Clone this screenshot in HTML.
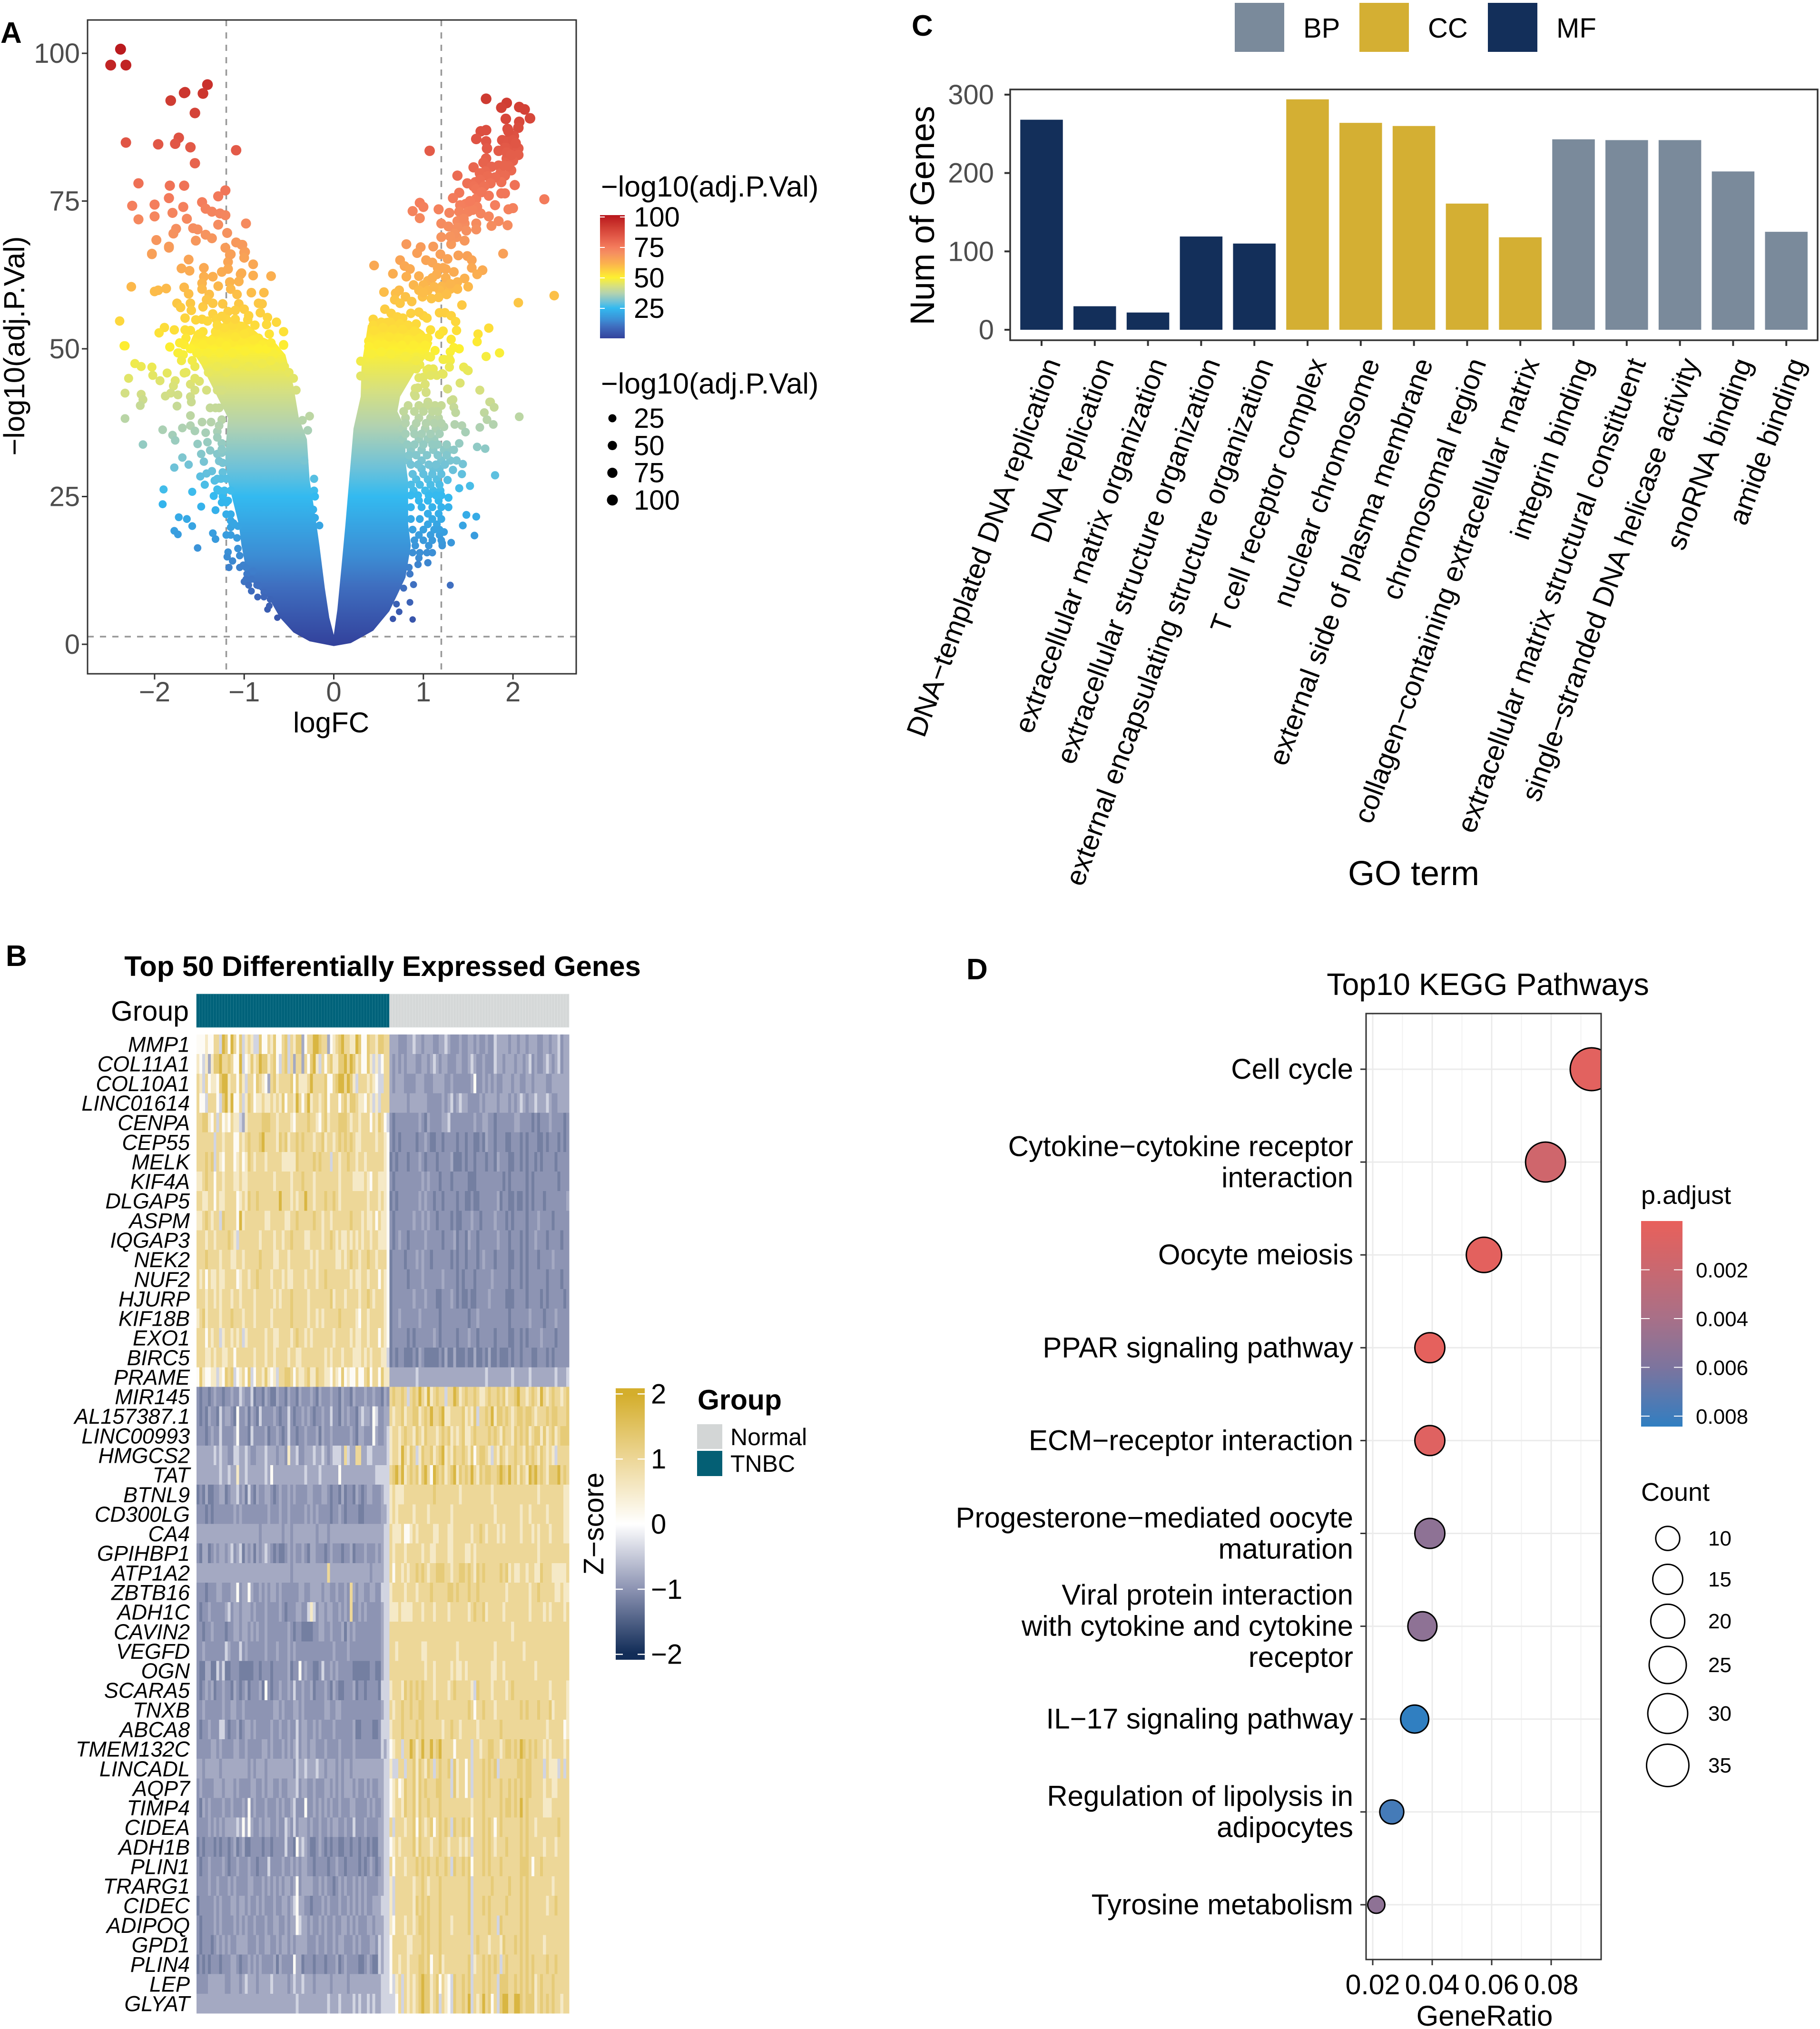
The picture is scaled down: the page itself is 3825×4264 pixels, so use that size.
<!DOCTYPE html>
<html lang="en">
<head>
<meta charset="utf-8">
<title>Multi-panel differential expression figure</title>
<style>
html,body{margin:0;padding:0;background:#fff;}
svg{display:block;font-family:"Liberation Sans",sans-serif;}
text{font-family:"Liberation Sans",sans-serif;}
</style>
</head>
<body>
<svg id="figure" xmlns="http://www.w3.org/2000/svg" width="3825" height="4264" viewBox="0 0 3825 4264">
<rect x="0" y="0" width="3825" height="4264" fill="#ffffff"/>
<defs id="defs">
<clipPath id="dot-clip"><rect x="2871" y="2130" width="494" height="1988"/></clipPath>
</defs>

<text x="1" y="90" font-size="62" font-weight="700">A</text>
<text x="12" y="2030" font-size="62" font-weight="700">B</text>
<text x="1916" y="75" font-size="62" font-weight="700">C</text>
<text x="2031" y="2058" font-size="62" font-weight="700">D</text>

<g id="panel-a">
<text transform="translate(51,727) rotate(-90)" text-anchor="middle" font-size="61.5">−log10(adj.P.Val)</text>
<text x="696" y="1539" text-anchor="middle" font-size="60">logFC</text>
<text x="1263" y="413" font-size="61">−log10(adj.P.Val)</text>
<text x="1263" y="827" font-size="61">−log10(adj.P.Val)</text>
</g>

<g id="panel-c">
<text transform="translate(1963,453) rotate(-90)" text-anchor="middle" font-size="71.5">Num of Genes</text>
<text x="2971" y="1860" text-anchor="middle" font-size="72">GO term</text>
</g>

<g id="panel-b">
<text x="804" y="2051" text-anchor="middle" font-size="59.8" font-weight="700">Top 50 Differentially Expressed Genes</text>
<text x="397" y="2145" text-anchor="end" font-size="59">Group</text>
<text transform="translate(1268,3202) rotate(-90)" text-anchor="middle" font-size="59">Z−score</text>
<text x="1466" y="2962" font-size="59" font-weight="700">Group</text>
<rect x="1465" y="2993" width="53" height="52" fill="#d3d6d6"/>
<rect x="1465" y="3049" width="53" height="53" fill="#045f74"/>
<text x="1535" y="3037" font-size="50">Normal</text>
<text x="1535" y="3093" font-size="50">TNBC</text>
</g>

<g id="panel-d">
<text x="3127" y="2091" text-anchor="middle" font-size="64.5">Top10 KEGG Pathways</text>
<text x="3120" y="4257" text-anchor="middle" font-size="60">GeneRatio</text>
<text x="3449" y="2530" font-size="54">p.adjust</text>
<text x="3449" y="3154" font-size="54">Count</text>
</g>
</svg>

<script>
// ---------- Panel A: volcano data (logFC, -log10 adj.P.Val) ----------
const volcanoLeft=[[-2.38,100.7],[-2.49,98],[-2.32,98],[-1.41,94.7],[-1.46,93.2],[-1.67,93.3],[-1.66,93.4],[-1.82,92],[-1.55,89.9],[-2.32,84.9],[-1.96,84.6],[-1.73,85.7],[-1.77,84.7],[-1.6,84.1],[-1.09,83.6],[-1.55,81.4],[-2.18,78],[-1.83,77.6],[-1.67,77.6],[-1.21,76.8],[-1.29,75.8],[-1.84,75.5],[-1.47,74.8],[-2,74.4],[-2.25,74.2],[-1.68,74],[-1.43,73.7],[-1.36,73.2],[-1.27,72.9],[-1.21,72.6],[-1.8,73],[-2.18,71.9],[-2,72.4],[-1.64,72],[-.98,71.2],[-1.29,71],[-1.57,70.4],[-1.52,70.2],[-1.76,70.3],[-1.79,69.5],[-1.19,69.6],[-1.43,69.3],[-1.36,68.7],[-1.98,68.4],[-1.54,68.3],[-1.84,67.1],[-2.03,66.1],[-1.09,68],[-1.03,67.6],[-1.21,67.1],[-1.16,65.9],[-1,66.3],[-1.62,65.1],[-1.18,64.7],[-.9,64.3],[-1.7,63.6],[-1.61,63.2],[-1.45,63.7],[-1.25,63],[-1.04,62.6],[-.9,62.4],[-.7,62.3],[-1.98,68.4],[-1.84,67.3],[-2.03,66],[-1.15,66],[-1.02,67.6],[-.99,66.4],[-1,65.4],[-1.18,63.5],[-1.03,62.8],[-1.06,61.4],[-1.16,61.3],[-1.35,62.2],[-1.45,62.2],[-1.47,61.1],[-1.67,60.4],[-1.62,59.3],[-1.47,60.1],[-1.39,59.2],[-1.29,60.6],[-1.15,60.1],[-1.08,59.2],[-.92,59.5],[-.78,59.5],[-2.26,60.5],[-2,59.7],[-1.96,59.9],[-1.87,60.2],[-1.75,57.7],[-1.71,57],[-1.6,57.7],[-1.59,56.5],[-1.46,57.1],[-1.42,58.3],[-1.35,57.7],[-1.24,57.6],[-1.18,56.3],[-1.06,57.6],[-1,56.7],[-.84,57.7],[-.8,57.6],[-.82,56.1],[-.74,55.3],[-.75,54.1],[-.64,54.5],[-.56,52.9],[-.56,50.7],[-2.39,54.7],[-2.33,50.5],[-1.89,53.6],[-1.95,52.7],[-1.78,53.2],[-1.83,50.3],[-1.73,49.3],[-1.66,55.2],[-1.54,54.9],[-1.47,55],[-1.41,54.7],[-1.35,55.9],[-1.31,55],[-.96,54.9],[-.95,55.6],[-1.66,53.2],[-1.6,53.1],[-1.65,51.8],[-1.67,50.7],[-1.46,52.9],[-1.46,50.7],[-1.37,51.4],[-1.32,52.9],[-1.22,53.6],[-1.13,54],[-1.03,53.8],[-.94,52.9],[-.84,51.8],[-.72,52.5],[-.8,50.7],[-1.13,51.1],[-1.03,51.4],[-1.27,51.1],[-1.41,49.3],[-1.27,49.3],[-1.13,49.3],[-.99,49.6],[-.84,50],[-.67,49.1],[-1.53,49.3],[-2.34,50.5],[-1.83,50.3],[-1.74,49.3],[-.56,50.6],[-2.22,47.5],[-2.15,47],[-2.03,46.9],[-2.02,45.5],[-1.86,45.9],[-2.29,45],[-1.94,44.6],[-1.67,45.9],[-1.77,44.6],[-1.79,43.7],[-2.33,42.5],[-2.15,42.3],[-2.13,41.4],[-2.16,40.4],[-1.88,42],[-1.82,42.5],[-1.74,42.2],[-1.75,40.3],[-1.6,41.9],[-1.59,41],[-1.6,44],[-1.5,44.5],[-1.4,46],[-1.55,47],[-1.45,48],[-2.33,38.2],[-1.6,38.7],[-1.47,37.6],[-1.37,37.6],[-1.91,36.3],[-1.69,36.6],[-1.6,37],[-1.55,36.1],[-1.43,35.8],[-1.8,35.4],[-1.77,34.5],[-2.13,33.8],[-1.52,33.9],[-1.41,34.2],[-1.38,32.8],[-1.48,32.2],[-1.3,32.2],[-1.25,32.4],[-1.69,31.6],[-1.45,30.9],[-1.62,30.4],[-1.78,29.9],[-1.24,30.7],[-1.36,29.3],[-1.42,28.9],[-1.49,28.4],[-1.44,27],[-1.24,29.1],[-1.33,27.7],[-1.3,26.2],[-1.9,26.2],[-1.58,25.8],[-1.34,25.1],[-1.24,25],[-1.18,24.3],[-1.91,23.7],[-1.48,23.3],[-1.32,22.7],[-1.73,21.5],[-1.64,21.2],[-1.58,20],[-1.15,20.9],[-1.07,20],[-1.15,19.8],[-1.15,18.5],[-1.2,18.5],[-1.35,18.8],[-1.32,17.8],[-1.78,19.2],[-1.74,18.6],[-1.52,16.3],[-1.18,15.6],[-1.19,14.8],[-1.13,14.1],[-1.17,13],[-1.01,13.4],[-1.07,16.2],[-.97,11.9],[-1,10.6],[-.9,12.4],[-.92,9],[-.78,8.8],[-.84,9.9],[-.71,7.6],[-.74,5.9],[-.63,4.5],[-.27,38.6],[-.35,37.9],[-.29,36.2],[-.33,31.1],[-.22,28],[-.22,26],[-.21,25],[-.23,22.8],[-.21,21.4],[-.16,20.1],[-1.3,47],[-1.2,46],[-1.1,47.5],[-.95,47],[-.8,47.5],[-.65,47],[-.55,47],[-.5,46],[-.45,45],[-.42,43],[-1.25,43],[-1.32,40],[-1.25,38],[-1.3,36],[-1.25,34],[-1.2,28],[-1.15,26],
[-1.3,43],[-1.42,43],[-1.55,43],[-1.28,40],[-1.38,40],[-1.28,37],[-1.3,35],[-1.25,33],[-1.28,31],[-1.26,28],[-1.3,28],[-1.22,26],[-1.28,26],[-1.2,24],[-1.25,24],[-1.15,22],[-1.2,22],[-1.12,20.5],[-1.08,18],[-1.05,15],[-.98,13],[-1.05,13],[-.92,11],[-.98,11],[-.86,10],[-.95,10],[-.78,8],[-.85,8],[-.72,6.5],[-1.55,45],[-1.65,46],[-1.58,48],[-1.68,49],[-1.7,48],[-1.6,50],[-1.72,51],[-1.5,52.5],[-1.3,54],[-1.2,55],[-1.1,55],[-1,52.5],[-.9,51.5],[-1.2,50.5],[-1.1,52],[-.75,50],[-.7,51],[-1.25,55.5],[-1.1,56.5],[-.88,54],[-.7,48]];
const volcanoRight=[[1.7,92.3],[1.93,91.6],[1.87,90.8],[2.07,90.9],[2.13,90.5],[2.19,89],[1.92,88.9],[2.07,88.4],[2.06,87.4],[1.94,87.2],[1.7,87],[1.64,86.8],[1.59,85.5],[1.7,85.1],[2.01,86],[1.97,86.2],[1.88,85.3],[1.95,85],[2,84.4],[1.71,83.9],[1.84,83.5],[1.91,84],[2.06,83.9],[2.06,82.8],[1.93,82.2],[2,81.8],[1.07,83.5],[1.7,82.2],[1.67,81.5],[1.56,80.7],[1.84,81],[1.76,80.8],[1.98,80.2],[1.38,79.3],[1.69,80],[1.63,79.7],[1.86,79.7],[1.91,79.3],[1.72,79.2],[1.49,78],[1.58,78.2],[1.63,78.6],[1.87,78.2],[2.02,77.7],[1.56,77.5],[1.59,77],[1.91,76.3],[1.87,76.3],[1.59,75.4],[1.73,75.9],[2.35,75.3],[1.4,76.4],[1.33,75.5],[1.8,74.3],[1.47,74.5],[1.41,74.3],[1.95,73.6],[2,73.8],[.96,74.7],[1,74],[.88,73.3],[.96,72.1],[1.17,73.6],[1.29,73],[1.5,73.2],[1.4,73.2],[1.64,72.9],[1.73,72.4],[1.84,71.6],[1.2,71.2],[1.28,70.7],[1.38,71.6],[1.46,71.2],[1.59,71.2],[1.59,70.2],[1.48,70],[1.38,70.5],[1.76,70.8],[1.94,70.9],[1.2,68.9],[1.37,68.9],[1.46,68.3],[1.31,67.7],[1.11,67.3],[.97,67.2],[.93,66.2],[.81,67.7],[1.89,66.1],[1.19,66],[1.27,65.2],[1.39,65.8],[1.49,65.7],[1.54,65],[1.03,65],[1.1,64.6],[.74,65],[.79,64],[.45,64.1],[1.16,63.7],[1.22,63.7],[.85,63.5],[1.54,63.7],[1.66,63.3],[1.34,63],[.66,62.7],[.81,62.2],[1.15,62.6],[1.6,62.6],[.95,62.3],[1.05,61.5],[1.46,61.9],[1.38,61.3],[.89,60.8],[1,60.8],[1.21,60.6],[1.5,60.5],[.73,59.9],[.56,59.6],[.95,59.9],[1.05,59.9],[1.18,59.9],[1.3,60.1],[1.38,60.1],[.69,59.4],[.8,58.8],[.68,58.3],[.74,57.7],[.87,58],[.99,58.8],[1.09,58.5],[1.17,58.7],[1.26,59.2],[2.46,59],[2.06,57.8],[1.43,57.4],[.57,56.7],[1.18,56.1],[1.24,56.1],[.64,56],[1,55.6],[1.04,55.2],[1.31,55.6],[.44,55],[.71,55.4],[.77,55.2],[1.36,54.6],[.44,54],[.53,54.5],[.63,54.5],[.74,54.2],[.83,54],[.92,54.2],[.45,53.1],[.55,53.6],[.66,53.3],[.77,53.3],[.9,53],[1.08,53.2],[1.22,53],[1.37,53.1],[1.73,53.5],[1.61,52.5],[1.18,52.4],[.39,51.3],[.73,51.8],[.83,51.5],[.96,51.8],[1.05,51.8],[1.31,51.6],[1.6,51.2],[.39,50.4],[.49,50.7],[.57,50.7],[.76,50.6],[.89,50.6],[1.02,50.6],[1.4,50],[1.34,50.2],[1.13,49.7],[1.3,49.5],[1.85,49.3],[1.7,48.7],[.42,49.1],[.53,49.5],[.64,49.1],[.8,48.6],[.92,48.6],[1.08,48.6],[1.22,48.2],[1.3,48],[.3,47.9],[.96,47.3],[1.29,46.9],[1.45,46.9],[1.49,46.4],[.3,45.4],[1.22,45.7],[1.06,46.6],[1.11,46.6],[.92,46.6],[1,45.2],[1.15,45.5],[1.41,44.2],[1.27,43.2],[1.63,43],[.36,43.9],[.94,43.4],[.9,42.3],[1.03,42.7],[1.74,41],[1.33,41.4],[1.05,41],[.83,40.4],[.95,40.4],[1.04,40.4],[1.13,40.4],[1.2,40.4],[.8,38.3],[.95,38.3],[1.08,38.3],[1.17,38.3],[.77,36.5],[.89,36.5],[1.02,36.5],[1.14,36.5],[.77,34.7],[.95,34.7],[1.05,34.7],[1.12,34.7],[.86,32.9],[.98,32.9],[1.11,32.9],[1.23,32.9],[1.29,32.9],[.83,31.1],[.98,31.1],[1.2,31.1],[1.3,31.1],[.98,29.7],[1.11,29.7],[1.18,29.7],[.92,27.9],[1.05,27.9],[1.15,27.9],[.89,26],[1.02,26],[1.11,26],[.95,24.3],[1.05,24.3],[1.17,24.3],[1.05,22.1],[1.17,22.1],[1.05,20.3],[1.15,20.3],[.95,18.5],[1.08,18.5],[1.18,18.5],[.91,16.7],[1.06,16.7],[1.21,16.7],[1.85,49.3],[1.45,46.9],[1.5,46.3],[1.41,44.2],[1.27,43.2],[1.63,43],[1.31,41.2],[1.34,40.1],[1.36,39.2],[1.75,41],[1.79,40.1],[1.68,39.2],[1.71,38],[1.78,37.2],[1.63,36.7],[2.07,38.5],[1.23,36.8],[1.35,37.2],[1.43,37],[1.47,35.9],[1.4,34],[1.34,32.9],[1.6,33.4],[1.69,33.1],[1.44,30.5],[1.37,31.1],[1.33,29.5],[1.43,28.8],[1.8,28.6],[1.27,27.8],[1.52,26.8],[1.4,26.4],[1.19,26],[1.28,24.8],[1.28,23.2],[1.48,21.9],[1.59,21.6],[1.44,20.1],[1.23,19],[1.57,18.4],[1.31,17.2],[1.21,17.1],[1.05,13.8],[.95,14.6],[.94,13.5],[1.3,10],[.89,10.1],[.85,7.1],[.88,4.2],[.73,5.5],[.66,4.3],[.85,11.9],[.8,48.7],[.92,48],[1.06,48.7],[1.23,48.2],[1.29,48.3],[1.29,46.9],[1.04,46.4],[1.21,45.8],[.95,45.1],[1.08,45.5],[1.02,44],[.91,43.3],[1.03,42.6],[.91,42],
[.78,39.4],[.9,39.4],[1,39.4],[1.1,39.4],[1.16,39.4],[.8,37.4],[.92,37.4],[1.03,37.4],[1.12,37.4],[1.2,37.4],[.8,35.6],[.9,35.6],[.98,35.6],[1.08,35.6],[1.18,35.6],[.82,33.8],[.9,33.8],[1,33.8],[1.1,33.8],[1.16,33.8],[1.26,33.8],[.84,32],[.92,32],[1.04,32],[1.16,32],[1.26,32],[.86,30.4],[.94,30.4],[1.06,30.4],[1.14,30.4],[1.24,30.4],[.88,28.8],[1,28.8],[1.1,28.8],[1.2,28.8],[.86,27],[.96,27],[1.08,27],[1.18,27],[.86,25.2],[.94,25.2],[1.06,25.2],[1.14,25.2],[1.2,25.2],[.86,23.2],[.98,23.2],[1.1,23.2],[1.2,23.2],[.86,21.2],[.96,21.2],[1.1,21.2],[1.2,21.2],[.88,19.4],[1,19.4],[1.12,19.4],[1.18,19.4],[.9,17.6],[1,17.6],[1.1,17.6],[1.2,17.6],[.88,15.5],[.96,15.5],[1.04,15.5],[1.1,15.5],[.84,13],[.78,9.5],[.7,6.8],
[1.95,86.8],[2,85.3],[1.93,83.2],[1.98,82.8],[2.03,84.8],[1.95,80.9],[1.9,81],[1.8,79],[1.75,78],[1.68,77.5],[1.65,76.5],[1.6,74],[1.55,73.5],[1.52,75],[1.45,72],[1.35,69.5],[1.3,69],[1.25,63.5],[1.1,62],[1.25,62],[1.3,61],[1.12,60.5],[1,59.5],[.86,56],[.62,52],[.95,56.2]];
// dense core of each lobe: outline as [logFC, -log10 adj.P.Val]
const leftLobeOutline=[[0,-.3],[-.27,.5],[-.45,2],[-.6,4.5],[-.72,7.7],[-.875,9.9],[-.97,12],[-1.03,16.7],[-1.06,20.3],[-1.12,23.9],[-1.18,27.5],[-1.21,31],[-1.2,34.7],[-1.18,38.3],[-1.3,41.9],[-1.48,47.3],[-1.62,50.5],[-1.55,53],[-1.4,52],[-1.25,54],[-1.1,55],[-.95,54],[-.8,52],[-.65,51],[-.54,49],[-.45,43.7],[-.39,38.3],[-.3,34.7],[-.27,27.9],[-.2,21],[-.16,16.7],[-.1,9.5],[-.05,4.5],[0,1.6]];
const rightLobeOutline=[[0,1.6],[.04,5.9],[.085,13],[.13,20.3],[.16,25.7],[.19,31.1],[.22,36.5],[.3,41.9],[.31,47.3],[.345,50.5],[.38,54],[.5,55],[.7,55.5],[.85,54.5],[1,53],[1.1,51],[1.05,49],[.9,46],[.74,41.9],[.71,39.4],[.8,36.5],[.8,31.1],[.83,27.5],[.83,20.3],[.86,16.7],[.8,11.3],[.71,8.4],[.62,5.6],[.44,2.3],[.19,.2],[0,-.3]];
const volcanoXTicks=[-2,-1,0,1,2];
const volcanoYTicks=[0,25,50,75,100];
const volcanoXCutoffs=[-1.2,1.2];
const volcanoYCutoffs=[1.3];
const volcanoLegendValues=[100,75,50,25];
const volcanoSizeValues=[25,50,75,100];
const volcanoScaleValues=[0,10,15,25,30,37,43,50,56,62,70,75,85,92,101.6];
const volcanoScaleColors=['#33429c','#3f6fc0','#3c8dd4','#33baf0','#6fc2d8','#b2d2b0','#d6e080','#fdf030','#fdd040','#fbb04f','#f59060','#f47c5c','#e05545','#cf3c32','#b8161c'];

// ---------- Panel B: heatmap ----------
const geneLabels=['MMP1','COL11A1','COL10A1','LINC01614','CENPA','CEP55','MELK','KIF4A','DLGAP5','ASPM','IQGAP3','NEK2','NUF2','HJURP','KIF18B','EXO1','BIRC5','PRAME','MIR145','AL157387.1','LINC00993','HMGCS2','TAT','BTNL9','CD300LG','CA4','GPIHBP1','ATP1A2','ZBTB16','ADH1C','CAVIN2','VEGFD','OGN','SCARA5','TNXB','ABCA8','TMEM132C','LINCADL','AQP7','TIMP4','CIDEA','ADH1B','PLIN1','TRARG1','CIDEC','ADIPOQ','GPD1','PLIN4','LEP','GLYAT'];
const groupSampleCounts=[68,62];
// each digit is a binned z-score for one sample; zBinCentres decodes the digit
const zBinCentres=[-1.4,-1.2,-1,-.8,-.4,.1,.55,1,1.3,1.8];
const heatTNBC=[
'55565577498597584676448557685578476883577998773567897766985587768877',
'65463688977875594568679886785478473773758964757866889798675586464577',
'76475665899677586477587653786777785866679777785578997986477767654477',
'75547775489695574687566766767685776975796776785777578688766576464777',
'77886574756576643677777888776777765777787765786777888767767775768754',
'77777747767775576787778977776878677878777677867767878787667777767765',
'77787847657775675687677767777766666877777878777477677877677677777765',
'66787757767776676677777777767777767778777677777777677776666765776665',
'77667757667777567687787777777977767677977677787787677777777767776765',
'66787677487777596777777766777776677877777877677677777787776766757665',
'77767767777876477777776777767767787777667777677876766767676776776665',
'77787777677766776777778777766777677777776767777776676787767787767775',
'76757667667777567767787777677767667777677767787777777767667767775765',
'77767767677767767777677777767677787777767777777867776777767787677765',
'67867777677787776777677777677777787777767767677777877777657767777765',
'77757677467767674677777767766777767877676777777767777767667767775765',
'77766767766775777777677767767777677667777777767677767776667676777664',
'58655664658784567584577686564778875766786687766576585655755785775866',
'21221232212232243224122132113221322132223213222322132213222322322132',
'21213221423321522313214222232122421223232122322422132322134332542233',
'22212322422223522214222231223212422122322231322322222232133222532234',
'33333343433224433432233343332332633422333433432344437433773344333334',
'33333333433433633433333343533333333333433334333333533333333333344444',
'12131122331233423142132233212322323222233222332122131221321233222344',
'22212122222223232222222223222322322222323232222122321222211222222334',
'33333333333333333333332333333323323333333323332333333333333333333344',
'21331232332342341323132343212112323223213322212322212231222322232344',
'33333333333333333333333333333333323333333333337333333333333332333344',
'22212223322233523353223232332322222233223333233223223273233223322444',
'21223222223423323332322232222321222332246423323322323272232322222344',
'22122322221223323323232232222222321221111223322322231323222222222344',
'22322222224322242322222232223222323222222222222232222322222222222344',
'21133114241122211111221222122222312252322112422323222221111112211344',
'21232312232213212312223152122322324223223122232132112223122122221444',
'22322222232233223222222222233232223323222222233223322222222222222344',
'21223222442122312332322222322322322423322323222232222223112222112444',
'22222332322223322322222332322232323423323322232222322223222222222434',
'33233333233333333323233323333333332433433343323332323323333333333344',
'23222233323332322223322323322322333423322322233232323332322323223344',
'21323222232232223252322232223232234222522323232322322233222232322344',
'22223232323333435353223233223224324233323223223233223224222322223344',
'12122212122123123112222122122224221534321123212122112212212212113344',
'21223222232122322232212224222232232323322122221223221222212123212344',
'22223223222323222233222323232323323523333223232212323223232322223344',
'12222232322233233232232322232233234533221222323222322323232322333444',
'21222232322223232322322232233223233543323223232232233232322233233344',
'21222123232322333322232233223233232333322232232232332223232223324344',
'12121222122233212232323222231322225331222122212223123222211232114344',
'22223333332233323433323333433333234334333233333233333233333333333444',
'33333333333333333333333333333333333433333333334333433334343343433444'];
const heatNormal=[
'33322233433233322334322232233232232243333233233233322332334233',
'32323233322332343233222332234322322243323332332342322343234233',
'32333222233322233332232222223522323232233323322332333322333333',
'33333323333332222232342343322223233332333232343233433343223333',
'21222222223213222233422222222322332212222223322221212223222212',
'21212222212232112212222122122112132212221122212122211212221212',
'12122212223212221222231112122122212213222112212122121222212222',
'21222222222323222122212222211122222222212122222121222222221222',
'12122222223232212212222122112112222223122112112121222122222223',
'21222222322323221222212112223221222232221212222122232222122222',
'21232212222232222212223122132212222223222122212122322212222122',
'12222122232322122222212122122212322212222112212122212222322222',
'12222212222322222232222121222122222322222122212122222212222122',
'12222222322232221122232121121122223222221112222122221212222212',
'12232222223222222122222222212232222222222122222232222122232222',
'12222212122222232122222122232212222212222112212122223222212222',
'12122111213211111213113111211311213112111212212221122212122222',
'33333333343333333333333333333333343333333343333343333333343334',
'78778747879769678774779867877876678778786778977678769767877678',
'76778677886787977896677778676847787968878767887887677787887778',
'67767877687687776787867678667877778787687768787867886867867888',
'67769768746877867896768778768578876476876778776878768767647777',
'78979678786897598786789687879768788778987978687698978768889787',
'67666777777777787777777767777777777677777777777777767777777766',
'67677777677776777777767777777777777767777777767767777767777766',
'76667556767777766777667777776778767776767777767776767776777766',
'76777677777677667777667777667677777777777777777777767777777777',
'75776767787876778887767788787687877777878676677677668777666667',
'67777677767777877777887877787787777777776777777767787777766766',
'66676666777677767777677777767877867777767777777767777676777767',
'77777777777777777777777777777777777777777767777777777777777777',
'77677777777667777777777677777777777767777777776777777777777777',
'77777777777767767777767667677777777667767777777777677777777777',
'67776878787877767777678777776487777677776787777777777776777776',
'76778778778877778777777777787577877767777777787877787778677776',
'67778777787877777767787767777767777777877777777777777767777756',
'56774779867977978977775777774776778877678878798787877676777767',
'64477477868768747877848677574777878784777777887887777476664747',
'56756877868787778877748677574777878777877878787887777677667777',
'56776877868778777877777777776777877777878878797877777666777777',
'74777677858767857878748778785777878757877777787877677777778777',
'56767777868777677877677767674777878767778777787877777677767777',
'75777677787878778778748778785777878777877777788875778777777777',
'64777777677876777877777777784777777877777877787877777777677777',
'64777777687878777877777777784777878777778777787877777767787777',
'65777677678878777877767777784777778774877777787877777777777777',
'57777766777878777877777777774787776777687778787877777677777777',
'57767767778878577867777777784677878787478777787878777787787777',
'54674767678988678576548778784777878774888778787878678777877777',
'44574767678988678476548778794767978574899779987888678787877677'];
const zscoreTicks=[2,1,0,-1,-2];
const zScaleValues=[-2.1,-2,-1,0,1,2,2.1];
const zScaleColors=['#122d58','#122d58','#8d94b3','#ffffff','#edd798','#d4ae2c','#d4ae2c'];

// ---------- Panel C: GO bars ----------
const goTerms=['DNA−templated DNA replication','DNA replication','extracellular matrix organization','extracellular structure organization','external encapsulating structure organization','T cell receptor complex','nuclear chromosome','external side of plasma membrane','chromosomal region','collagen−containing extracellular matrix','integrin binding','extracellular matrix structural constituent','single−stranded DNA helicase activity','snoRNA binding','amide binding'];
const goCounts=[268,30,22,119,110,294,264,260,161,118,243,242,242,202,125];
const goCategories=['MF','MF','MF','MF','MF','CC','CC','CC','CC','CC','BP','BP','BP','BP','BP'];
const goCategoryNames=['BP','CC','MF'];
const goCategoryColors={BP:'#7a8a9b',CC:'#d4af33',MF:'#132f5a'};
const goYTicks=[0,100,200,300];

// ---------- Panel D: KEGG dots ----------
const pathways=['Cell cycle','Cytokine−cytokine receptor\ninteraction','Oocyte meiosis','PPAR signaling pathway','ECM−receptor interaction','Progesterone−mediated oocyte\nmaturation','Viral protein interaction\nwith cytokine and cytokine\nreceptor','IL−17 signaling pathway','Regulation of lipolysis in\nadipocytes','Tyrosine metabolism'];
const geneRatios=[.0936,.0781,.0574,.0392,.0392,.0392,.0367,.0341,.0264,.0212];
const geneCounts=[36,30,22,15,15,15,14,13,10,8];
const pAdjusted=[.0004,.0016,.0003,.0002,.0006,.0052,.0052,.0084,.0078,.0052];
const ratioMajorTicks=[.02,.04,.06,.08];
const ratioMinorTicks=[.03,.05,.07,.09];
const padjustTicks=[.002,.004,.006,.008];
const countLegendValues=[10,15,20,25,30,35];
const pScaleValues=[0,.002,.004,.006,.008,.00843];
const pScaleColors=['#e8605b','#c96870','#a87088','#7c749e','#3f7cbb','#2f7fc1'];

// ---------- helpers ----------
const NS='http://www.w3.org/2000/svg';
function add(parent,tag,attrs,text){
  const el=document.createElementNS(NS,tag);
  for(const k in attrs){el.setAttribute(k,attrs[k]);}
  if(text!==undefined){el.textContent=text;}
  parent.appendChild(el);
  return el;
}
function hexToRgb(h){return [parseInt(h.slice(1,3),16),parseInt(h.slice(3,5),16),parseInt(h.slice(5,7),16)];}
function scaleColor(values,colors,v){
  if(v<=values[0]){return colors[0];}
  for(let i=1;i<values.length;i++){
    if(v<=values[i]){
      const t=(v-values[i-1])/(values[i]-values[i-1]);
      const a=hexToRgb(colors[i-1]),b=hexToRgb(colors[i]);
      return 'rgb('+a.map((c,j)=>Math.round(c+(b[j]-c)*t)).join(',')+')';
    }
  }
  return colors[colors.length-1];
}
const defs=document.getElementById('defs');
function verticalGradient(id,lo,hi,values,colors,y1,y2,units){
  const g=add(defs,'linearGradient',{id:id,x1:0,x2:0,y1:y1,y2:y2,gradientUnits:units});
  values.forEach((v,i)=>{
    add(g,'stop',{offset:(v-lo)/(hi-lo),'stop-color':colors[i]});
  });
}
const GREY='#4d4d4d',AXIS='#333333';

// ---------- Panel A ----------
const panelA=document.getElementById('panel-a');
const volX=v=>701.5+188.3*v;
const volY=v=>1354-12.42*v;
const volR=v=>5.5+0.6*Math.sqrt(Math.max(v,0));
volcanoXCutoffs.forEach(v=>{
  const el=add(panelA,'line',{x1:volX(v),x2:volX(v),y1:42,y2:1416,stroke:'#999999','stroke-width':3.5,'stroke-dasharray':'13 13'});
  
  
});
volcanoYCutoffs.forEach(v=>{
  const el=add(panelA,'line',{x1:184,x2:1211,y1:volY(v),y2:volY(v),stroke:'#999999','stroke-width':3.5,'stroke-dasharray':'13 13'});
  
  
});
verticalGradient('volcano-gradient',0,62,volcanoScaleValues.slice(0,10),volcanoScaleColors.slice(0,10),volY(0),volY(62),'userSpaceOnUse');
[leftLobeOutline,rightLobeOutline].forEach(outline=>{
  const pts=outline.map(p=>volX(p[0])+','+volY(p[1])).join(' ');
  const el=add(panelA,'polygon',{points:pts,fill:'url(#volcano-gradient)'});
  
  
});
volcanoLeft.concat(volcanoRight).forEach(p=>{
  const el=add(panelA,'circle',{cx:volX(p[0]),cy:volY(p[1]),r:volR(p[1]),fill:scaleColor(volcanoScaleValues,volcanoScaleColors,p[1])});
  
  
});
{
  const frame=add(panelA,'rect',{x:184,y:42,width:1027,height:1374,fill:'none',stroke:AXIS,'stroke-width':3});
  
  
}
volcanoXTicks.forEach(v=>{
  const t=add(panelA,'line',{x1:volX(v),x2:volX(v),y1:1416,y2:1428,stroke:AXIS,'stroke-width':3});
  
  
  const l=add(panelA,'text',{x:volX(v),y:1474,'text-anchor':'middle','font-size':58,fill:GREY},String(v).replace('-','−'));
  
  
});
volcanoYTicks.forEach(v=>{
  const t=add(panelA,'line',{x1:172,x2:184,y1:volY(v),y2:volY(v),stroke:AXIS,'stroke-width':3});
  
  
  const l=add(panelA,'text',{x:168,y:volY(v)+20,'text-anchor':'end','font-size':58,fill:GREY},String(v));
  
  
});
verticalGradient('volcano-legend-gradient',0,101.6,volcanoScaleValues,volcanoScaleColors,1,0,'objectBoundingBox');
{
  const bar=add(panelA,'rect',{x:1261,y:452,width:52,height:259,fill:'url(#volcano-legend-gradient)'});
  
  
}
const volLegendY=v=>712-2.56*v;
volcanoLegendValues.forEach(v=>{
  const l=add(panelA,'text',{x:1332,y:volLegendY(v)+20,'font-size':58},String(v));
  
  
  [[1261,1271],[1303,1313]].forEach(s=>{
    const t=add(panelA,'line',{x1:s[0],x2:s[1],y1:volLegendY(v),y2:volLegendY(v),stroke:'#ffffff','stroke-width':2});
    
    
  });
});
volcanoSizeValues.forEach((v,i)=>{
  const y=879+57.3*i;
  const c=add(panelA,'circle',{cx:1287,cy:y,r:volR(v),fill:'#000000'});
  
  
  const l=add(panelA,'text',{x:1332,y:y+20,'font-size':58},String(v));
  
  
});

// ---------- Panel C ----------
const panelC=document.getElementById('panel-c');
const goX=i=>2189+111.8*i;
const goY=v=>693-1.647*v;
goCounts.forEach((v,i)=>{
  const b=add(panelC,'rect',{x:goX(i)-44.75,y:goY(v),width:89.5,height:goY(0)-goY(v),fill:goCategoryColors[goCategories[i]]});
  
  
  const t=add(panelC,'line',{x1:goX(i),x2:goX(i),y1:715,y2:727,stroke:AXIS,'stroke-width':4});
  
  
  const l=add(panelC,'text',{transform:'translate('+(goX(i)+41)+',762) rotate(-70)','text-anchor':'end','font-size':59},goTerms[i]);
  
  
});
{
  const frame=add(panelC,'rect',{x:2123,y:188,width:1697,height:527,fill:'none',stroke:AXIS,'stroke-width':3.5});
  
  
}
goYTicks.forEach(v=>{
  const t=add(panelC,'line',{x1:2111,x2:2123,y1:goY(v),y2:goY(v),stroke:AXIS,'stroke-width':4});
  
  
  const l=add(panelC,'text',{x:2089,y:goY(v)+20,'text-anchor':'end','font-size':58,fill:GREY},String(v));
  
  
});
goCategoryNames.forEach((c,i)=>{
  const x=[2595,2857,3127][i];
  const s=add(panelC,'rect',{x:x,y:6,width:104,height:103,fill:goCategoryColors[c]});
  
  
  const l=add(panelC,'text',{x:x+144,y:79,'font-size':58},c);
  
  
});

// ---------- Panel B ----------
const panelB=document.getElementById('panel-b');
const heatLeft=413,heatMid=818.5,heatRight=1196,heatTop=2174,rowH=41.14;
groupSampleCounts.forEach((n,g)=>{
  const x0=g===0?heatLeft:heatMid,w=(g===0?heatMid-heatLeft:heatRight-heatMid)/n;
  for(let i=0;i<n;i++){
    const c=add(panelB,'rect',{x:x0+i*w,y:2089,width:w,height:70,fill:g===0?'#00627a':'#d5d8d8',stroke:g===0?'#2a8093':'#e2e4e4','stroke-width':.7});
    
    
  }
});
[[heatTNBC,heatLeft,heatMid],[heatNormal,heatMid,heatRight]].forEach(spec=>{
  spec[0].forEach((row,r)=>{
    const w=(spec[2]-spec[1])/row.length;
    for(let i=0;i<row.length;i++){
      const z=zBinCentres[Number(row[i])];
      const c=add(panelB,'rect',{x:spec[1]+i*w,y:heatTop+r*rowH,width:w+.4,height:rowH+.4,fill:scaleColor(zScaleValues,zScaleColors,z),'shape-rendering':'crispEdges'});
      
      
    }
  });
});
geneLabels.forEach((g,r)=>{
  const l=add(panelB,'text',{x:399,y:heatTop+r*rowH+rowH/2+16,'text-anchor':'end','font-size':45,'font-style':'italic'},g);
  
  
});
verticalGradient('zscore-gradient',-2.1,2.1,zScaleValues,zScaleColors,1,0,'objectBoundingBox');
{
  const bar=add(panelB,'rect',{x:1294,y:2917.5,width:61,height:570.5,fill:'url(#zscore-gradient)'});
  
  
}
const zY=v=>3203-136.8*v;
zscoreTicks.forEach(v=>{
  const l=add(panelB,'text',{x:1368,y:zY(v)+20,'font-size':58},String(v).replace('-','−'));
  
  
  if(v!==0){
    [[1294,1309],[1340,1355]].forEach(s=>{
      const t=add(panelB,'line',{x1:s[0],x2:s[1],y1:zY(v),y2:zY(v),stroke:'#ffffff','stroke-width':2.5});
      
      
    });
  }
});

// ---------- Panel D ----------
const panelD=document.getElementById('panel-d');
const ratioX=v=>2885+6250*(v-.02);
const rowY=i=>2247+195.1*i;
ratioMinorTicks.forEach(v=>{
  const g=add(panelD,'line',{x1:ratioX(v),x2:ratioX(v),y1:2130,y2:4118,stroke:'#f2f2f2','stroke-width':2});
  
  
});
ratioMajorTicks.forEach(v=>{
  const g=add(panelD,'line',{x1:ratioX(v),x2:ratioX(v),y1:2130,y2:4118,stroke:'#ebebeb','stroke-width':3});
  
  
});
pathways.forEach((p,i)=>{
  const g=add(panelD,'line',{x1:2871,x2:3365,y1:rowY(i),y2:rowY(i),stroke:'#ebebeb','stroke-width':3});
  
  
});
const countR=c=>18+27*Math.sqrt((c-8)/28);
const dotGroup=add(panelD,'g',{'clip-path':'url(#dot-clip)'});


geneRatios.forEach((v,i)=>{
  const c=add(dotGroup,'circle',{cx:ratioX(v),cy:rowY(i),r:countR(geneCounts[i]),fill:scaleColor(pScaleValues,pScaleColors,pAdjusted[i]),stroke:'#000000','stroke-width':3});
  
  
});
{
  const frame=add(panelD,'rect',{x:2871,y:2130,width:494,height:1988,fill:'none',stroke:AXIS,'stroke-width':3});
  
  
}
pathways.forEach((p,i)=>{
  const t=add(panelD,'line',{x1:2859,x2:2871,y1:rowY(i),y2:rowY(i),stroke:AXIS,'stroke-width':3});
  
  
  const lines=p.split('\n');
  lines.forEach((s,j)=>{
    const l=add(panelD,'text',{x:2844,y:rowY(i)+20+(j-(lines.length-1)/2)*65.5,'text-anchor':'end','font-size':60},s);
    
    
  });
});
ratioMajorTicks.forEach(v=>{
  const t=add(panelD,'line',{x1:ratioX(v),x2:ratioX(v),y1:4118,y2:4130,stroke:AXIS,'stroke-width':3});
  
  
  const l=add(panelD,'text',{x:ratioX(v),y:4191,'text-anchor':'middle','font-size':59},v.toFixed(2));
  
  
});
verticalGradient('padjust-gradient',0,.00843,pScaleValues,pScaleColors,0,1,'objectBoundingBox');
{
  const bar=add(panelD,'rect',{x:3449,y:2566,width:87,height:432,fill:'url(#padjust-gradient)'});
  
  
}
const pY=v=>2566+51250*v;
padjustTicks.forEach(v=>{
  const l=add(panelD,'text',{x:3564,y:pY(v)+16,'font-size':44},v.toFixed(3));
  
  
  [[3449,3467],[3518,3536]].forEach(s=>{
    const t=add(panelD,'line',{x1:s[0],x2:s[1],y1:pY(v),y2:pY(v),stroke:'#ffffff','stroke-width':2});
    
    
  });
});
let countLegendY=3233;
countLegendValues.forEach((c,i)=>{
  if(i>0){countLegendY+=[86,88,92,102,109][i-1];}
  const d=add(panelD,'circle',{cx:3505,cy:countLegendY,r:countR(c),fill:'#ffffff',stroke:'#000000','stroke-width':3});
  
  
  const l=add(panelD,'text',{x:3639,y:countLegendY+15,'text-anchor':'end','font-size':44},String(c));
  
  
});
</script>
</body>
</html>
